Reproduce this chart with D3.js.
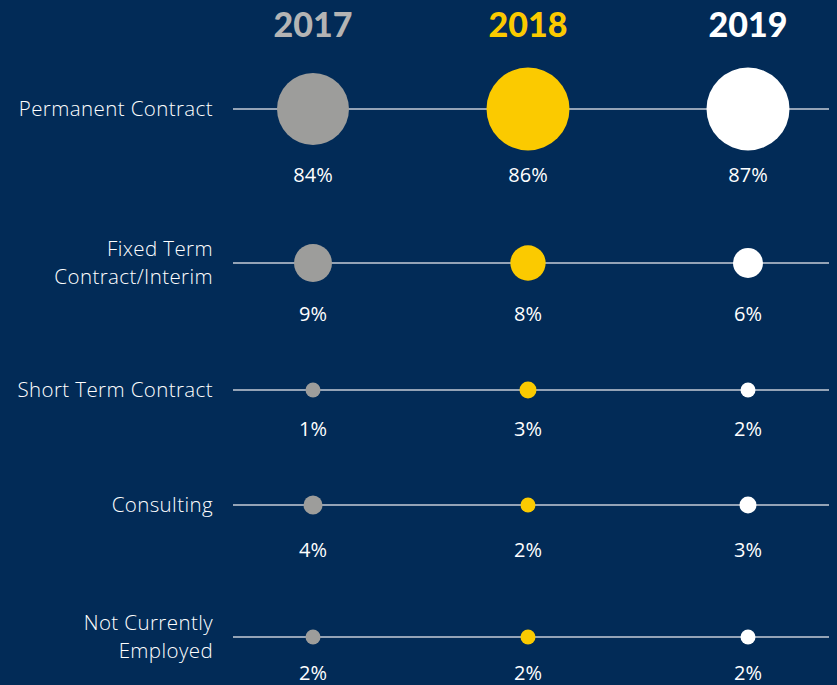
<!DOCTYPE html>
<html>
<head>
<meta charset="utf-8">
<script src="https://cdn.jsdelivr.net/npm/d3@7"></script>
<style>
  html, body { margin: 0; padding: 0; background: #022b57; }
  svg { display: block; }
</style>
</head>
<body>
<div id="chart"></div>
<script>
// data
var years = ["2017", "2018", "2019"];
var categories = ["Permanent Contract", "Fixed Term\nContract/Interim", "Short Term Contract", "Consulting", "Not Currently\nEmployed"];
var values2017 = [84, 9, 1, 4, 2];
var values2018 = [86, 8, 3, 2, 2];
var values2019 = [87, 6, 2, 3, 2];
var yearColors = ["#9d9d9b", "#fbca00", "#ffffff"];
var yearTextColors = ["#b4b4b4", "#fbca00", "#ffffff"];

var series = [values2017, values2018, values2019];

var width = 837, height = 685;

var svg = d3.select("#chart").append("svg")
    .attr("width", width)
    .attr("height", height);

svg.append("rect")
    .attr("width", width)
    .attr("height", height)
    .attr("fill", "#022b57");

// columns and rows are slightly uneven in the original, so map them explicitly
var xScale = d3.scaleOrdinal()
    .domain(years)
    .range([313, 528, 748]);

var yScale = d3.scaleOrdinal()
    .domain(categories)
    .range([109, 263, 390, 505, 637]);

var labelY = d3.scaleOrdinal()
    .domain(categories)
    .range([175, 314, 429, 550, 673]);

// bubble size (not strictly proportional)
var rScale = d3.scaleLinear()
    .domain([2, 4, 6, 9, 84, 86])
    .range([7.5, 9.5, 15, 19, 36, 41.5])
    .clamp(true);

// year headers
svg.selectAll(".year")
    .data(years)
    .join("text")
    .attr("class", "year")
    .attr("x", d => xScale(d))
    .attr("y", 37)
    .attr("text-anchor", "middle")
    .attr("fill", (d, i) => yearTextColors[i])
    .style("font", "900 34px Lato, sans-serif")
    .text(d => d);

var rows = svg.selectAll(".row")
    .data(categories)
    .join("g")
    .attr("class", "row");

rows.append("line")
    .attr("x1", 233)
    .attr("x2", 829)
    .attr("y1", d => yScale(d))
    .attr("y2", d => yScale(d))
    .attr("stroke", "#c6ccd6")
    .attr("stroke-width", 1.5);

var lineGap = 28;

rows.append("text")
    .attr("text-anchor", "end")
    .attr("fill", "#ffffff")
    .style("font", "300 20.5px 'Open Sans', sans-serif")
    .style("letter-spacing", "0.4px")
    .each(function (d) {
        var lines = d.split("\n");
        var y0 = yScale(d) - (lines.length - 1) * lineGap / 2;
        d3.select(this).selectAll("tspan")
            .data(lines)
            .join("tspan")
            .attr("x", 213)
            .attr("y", (l, i) => y0 + i * lineGap)
            .attr("dy", "0.35em")
            .text(l => l);
    });

// bubbles and value labels
years.forEach(function (yr, j) {
    var pts = categories.map((c, i) => ({cat: c, value: series[j][i]}));

    svg.selectAll(".dot-" + yr)
        .data(pts)
        .join("circle")
        .attr("class", "dot-" + yr)
        .attr("cx", xScale(yr))
        .attr("cy", d => yScale(d.cat))
        .attr("r", d => rScale(d.value))
        .attr("fill", yearColors[j]);

    svg.selectAll(".val-" + yr)
        .data(pts)
        .join("text")
        .attr("class", "val-" + yr)
        .attr("x", xScale(yr))
        .attr("y", d => labelY(d.cat))
        .attr("dy", "0.35em")
        .attr("text-anchor", "middle")
        .attr("fill", "#ffffff")
        .style("font", "20px 'Open Sans', sans-serif")
        .text(d => d.value + "%");
});
</script>
</body>
</html>
